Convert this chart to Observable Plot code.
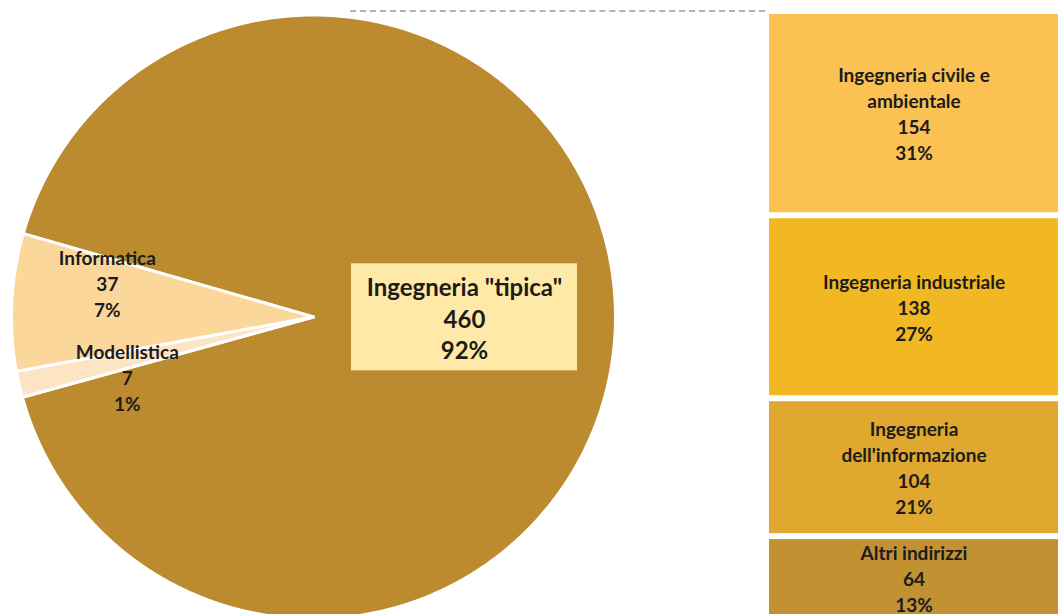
<!DOCTYPE html>
<html><head><meta charset="utf-8">
<script src="https://cdn.jsdelivr.net/npm/d3@7"></script>
<script src="https://cdn.jsdelivr.net/npm/@observablehq/plot@0.6"></script>
<style>
html,body{margin:0;padding:0;background:#fff;}
#wrap{position:relative;width:1058px;height:614px;overflow:hidden;font-family:Lato,sans-serif;}
#pie{position:absolute;left:0;top:0;}
#bar{position:absolute;left:769px;top:0;}
#series{position:absolute;left:350px;top:10px;width:415px;border-top:2px dashed #b4b4b4;}
svg{overflow:visible;}
</style></head><body>
<div id="wrap"><div id="series"></div><div id="pie"></div><div id="bar"></div></div>
<script>
// ---- data ----
const pieNames = ["Ingegneria \"tipica\"", "Informatica", "Modellistica"];
const pieValues = [460, 37, 7];
const piePercents = ["92%", "7%", "1%"];
const pieColors = ["#BC8B30", "#FCD79B", "#FDE5C4"];

const barNames = ["Ingegneria civile e\nambientale", "Ingegneria industriale", "Ingegneria\ndell'informazione", "Altri indirizzi"];
const barValues = [154, 138, 104, 64];
const barPercents = ["31%", "27%", "21%", "13%"];
const barColors = ["#FBC153", "#F2B823", "#E0A82E", "#C29232"];

// ---- pie geometry (counterclockwise layout) ----
const rad = Math.PI / 180;
const startDeg = 614.6;
const pieData = pieNames.map((name, i) => ({name, value: pieValues[i], pct: piePercents[i]}));
const arcs = d3.pie().sort(null).value(d => d.value)
  .startAngle(startDeg * rad).endAngle((startDeg - 360) * rad)(pieData);

const piePts = [];
arcs.forEach(a => {
  piePts.push({name: a.data.name, x: 0, y: 0});
  const n = Math.max(2, Math.ceil(Math.abs(a.endAngle - a.startAngle) / (0.25 * rad)));
  for (let k = 0; k <= n; k++) {
    const t = a.startAngle + (a.endAngle - a.startAngle) * k / n;
    piePts.push({name: a.data.name, x: Math.sin(t), y: Math.cos(t)});
  }
});

// label nudges (pixels) to keep the two thin-slice labels apart, as in the original
const labelOffsets = {"Informatica": [-1, -24], "Modellistica": [14, 14]};
const pieLabels = arcs.map(a => {
  const m = (a.startAngle + a.endAngle) / 2;
  const r = a.data.value > 100 ? 0.5 : 0.68;
  return {name: a.data.name, value: a.data.value, pct: a.data.pct,
          x: r * Math.sin(m), y: r * Math.cos(m), big: a.data.value > 100};
});
const bigLabel = pieLabels.filter(d => d.big);
const smallLabels = pieLabels.filter(d => !d.big);

const cx = 313, cy = 316.5, R = 302;
const piePlot = Plot.plot({
  width: 700, height: 614,
  margin: 0,
  x: {domain: [-1, 1], range: [cx - R, cx + R], axis: null},
  y: {domain: [-1, 1], range: [cy + R, cy - R], axis: null},
  color: {domain: pieNames, range: pieColors},
  style: {fontFamily: "Lato, sans-serif", background: "transparent", overflow: "visible"},
  marks: [
    Plot.line(piePts, {x: "x", y: "y", z: "name", fill: "name", stroke: "white", strokeWidth: 3,
      strokeLinejoin: "round", curve: "linear-closed"}),
    Plot.rect(bigLabel, {x1: "x", x2: "x", y1: "y", y2: "y", fill: "#FFE9A8",
      insetLeft: -113, insetRight: -113, insetTop: -54, insetBottom: -53}),
    Plot.text(bigLabel, {x: "x", y: "y", text: d => `${d.name}\n${d.value}\n${d.pct}`,
      fontSize: 24, fontWeight: "bold", lineHeight: 1.31, fill: "#1c1c1c"}),
    Plot.text(smallLabels, {x: "x", y: "y", text: d => `${d.name}\n${d.value}\n${d.pct}`,
      fontSize: 19, fontWeight: "bold", lineHeight: 1.37, fill: "#1c1c1c"})
  ]
});
document.getElementById("pie").appendChild(piePlot);
{
  const texts = piePlot.querySelectorAll("g[aria-label=text]")[1].querySelectorAll("text");
  texts.forEach((t, i) => {
    const off = labelOffsets[smallLabels[i].name] || [0, 0];
    t.setAttribute("transform", `translate(${off[0]},${off[1]}) ` + (t.getAttribute("transform") || ""));
  });
}

// ---- bar ----
const barData = barNames.map((name, i) => ({name, value: barValues[i], pct: barPercents[i]}));
const total = d3.sum(barValues);
const barPlot = Plot.plot({
  width: 289, height: 614,
  margin: 0,
  y: {domain: [0, total], range: [14, 624], axis: null},
  color: {domain: barNames, range: barColors},
  style: {fontFamily: "Lato, sans-serif", background: "transparent", overflow: "visible"},
  marks: [
    Plot.barY(barData, {y: "value", fill: "name", insetBottom: 6}),
    Plot.text(barData, Plot.stackY({y: "value", text: d => `${d.name}\n${d.value}\n${d.pct}`,
      fontSize: 19, fontWeight: "bold", lineHeight: 1.37, fill: "#1c1c1c", dy: -4}))
  ]
});
document.getElementById("bar").appendChild(barPlot);
</script>
</body></html>
